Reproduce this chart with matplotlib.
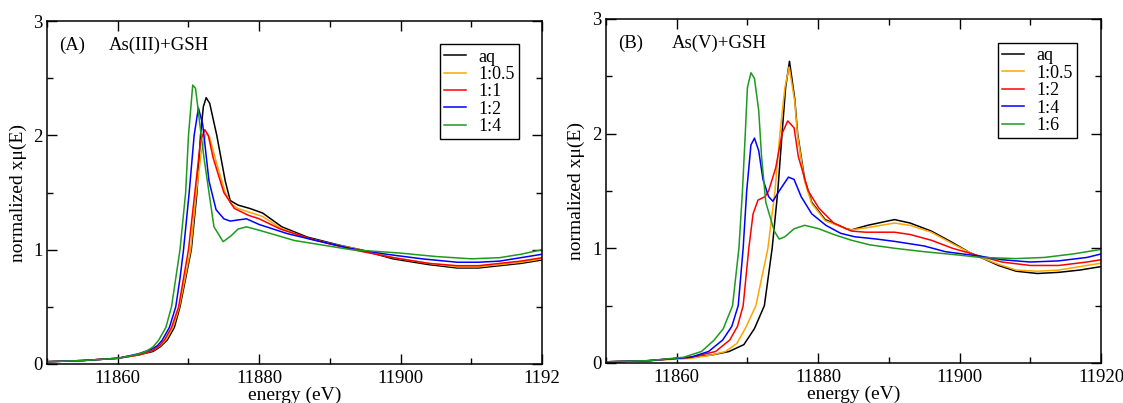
import numpy as np
import matplotlib.pyplot as plt
from matplotlib.ticker import MultipleLocator

plt.rcParams['font.family'] = ['Liberation Serif', 'DejaVu Serif']

# ---- panel A: As(III)+GSH ----
a_labels = ['aq', '1:0.5', '1:1', '1:2', '1:4']

a_aq_x = [11850, 11855, 11860, 11863, 11865, 11866, 11867, 11868, 11868.8, 11869.6, 11870.4, 11871.2, 11871.7,
          11872.1, 11872.5, 11873, 11874, 11875.2, 11875.9, 11877, 11878.7, 11880.5, 11883.2, 11886.8,
          11891.3, 11894.3, 11898.9, 11903.9, 11908, 11911, 11914, 11917, 11920]
a_aq_y = [0.02, 0.03, 0.05, 0.08, 0.11, 0.15, 0.21, 0.32, 0.5, 0.75, 1.0, 1.5, 2.0,
          2.25, 2.33, 2.28, 2.0, 1.6, 1.43, 1.39, 1.36, 1.32, 1.2, 1.11,
          1.04, 1.0, 0.92, 0.87, 0.84, 0.84, 0.86, 0.88, 0.91]

a_05_x = [11850, 11855, 11860, 11863, 11865, 11866, 11866.8, 11867.8, 11868.7, 11869.5, 11870.3, 11871.1, 11871.8,
          11872.5, 11873, 11874, 11875.2, 11876, 11877, 11878.5, 11880.5, 11883, 11886.8,
          11891, 11894.3, 11899, 11904, 11908, 11911, 11914, 11917, 11920]
a_05_y = [0.02, 0.03, 0.05, 0.08, 0.12, 0.16, 0.21, 0.32, 0.5, 0.75, 1.0, 1.5, 1.85,
          2.02, 1.98, 1.75, 1.5, 1.4, 1.36, 1.33, 1.29, 1.19, 1.1,
          1.04, 1.0, 0.93, 0.88, 0.85, 0.85, 0.87, 0.89, 0.92]

a_11_x = [11850, 11855, 11860, 11863, 11865, 11865.9, 11866.6, 11867.6, 11868.6, 11869.3, 11870, 11870.9, 11871.7,
          11872.3, 11872.8, 11873.5, 11875, 11876.5, 11878.5, 11880, 11883, 11887,
          11890, 11894, 11899, 11904, 11908, 11911, 11914, 11917, 11920]
a_11_y = [0.02, 0.03, 0.05, 0.08, 0.12, 0.16, 0.21, 0.32, 0.5, 0.75, 1.0, 1.5, 1.95,
          2.05, 2.0, 1.8, 1.5, 1.36, 1.3, 1.27, 1.18, 1.1,
          1.05, 0.99, 0.93, 0.88, 0.86, 0.86, 0.88, 0.9, 0.93]

a_12_x = [11850, 11855, 11860, 11863, 11864.8, 11865.6, 11866.3, 11867.3, 11868.2, 11868.8, 11869.3, 11870.1, 11870.8,
          11871.4, 11872, 11872.9, 11873.9, 11875, 11875.9, 11877, 11878.2, 11880, 11884, 11888,
          11893, 11898, 11903, 11908, 11911, 11914, 11917, 11920]
a_12_y = [0.02, 0.03, 0.05, 0.09, 0.13, 0.16, 0.21, 0.32, 0.5, 0.75, 1.0, 1.5, 2.0,
          2.24, 2.1, 1.6, 1.35, 1.27, 1.25, 1.26, 1.27, 1.22, 1.14, 1.08,
          1.01, 0.96, 0.92, 0.89, 0.89, 0.9, 0.93, 0.96]

a_14_x = [11850, 11855, 11860, 11862.5, 11864, 11865, 11865.8, 11866.8, 11867.6, 11868.2, 11868.8, 11869.6, 11870,
          11870.6, 11871, 11871.6, 11872.2, 11872.9, 11873.6, 11874.9, 11876, 11877, 11878.2, 11880,
          11885, 11890, 11893, 11900, 11905, 11910, 11914, 11917, 11920]
a_14_y = [0.02, 0.03, 0.05, 0.08, 0.11, 0.15, 0.21, 0.32, 0.5, 0.75, 1.0, 1.5, 2.0,
          2.44, 2.41, 2.1, 1.8, 1.5, 1.2, 1.07, 1.12, 1.18, 1.2, 1.17,
          1.08, 1.03, 1.0, 0.97, 0.94, 0.92, 0.93, 0.96, 1.0]

# ---- panel B: As(V)+GSH ----
b_labels = ['aq', '1:0.5', '1:2', '1:4', '1:6']

b_aq_x = [11850, 11856, 11862, 11865, 11867.4, 11869.5, 11871, 11872.4, 11873.5, 11874.3, 11874.9, 11875.4,
          11875.95, 11876.7, 11877.1, 11878.1, 11879.1, 11881, 11884, 11884.7, 11887, 11890.8,
          11893, 11896, 11899, 11901.5, 11903, 11905.5, 11908, 11911, 11914, 11917, 11920]
b_aq_y = [0.01, 0.02, 0.05, 0.07, 0.1, 0.16, 0.3, 0.5, 1.0, 1.5, 2.0, 2.4,
          2.63, 2.3, 2.0, 1.6, 1.4, 1.25, 1.17, 1.16, 1.2, 1.25,
          1.22, 1.15, 1.05, 0.96, 0.92, 0.85, 0.8, 0.78, 0.79, 0.81, 0.84]

b_05_x = [11850, 11856, 11862, 11865, 11866.9, 11868.5, 11869.7, 11871.2, 11872.9, 11873.9, 11874.6, 11875.3,
          11875.9, 11876.7, 11877.1, 11878.1, 11879.1, 11881, 11884, 11884.7, 11887, 11890.8,
          11893, 11896, 11899, 11901.5, 11903, 11905.5, 11908, 11911, 11914, 11917, 11920]
b_05_y = [0.01, 0.02, 0.04, 0.07, 0.1, 0.17, 0.3, 0.5, 1.0, 1.5, 2.0, 2.4,
          2.58, 2.28, 1.98, 1.58, 1.39, 1.24, 1.17, 1.16, 1.18, 1.22,
          1.2, 1.14, 1.04, 0.96, 0.92, 0.86, 0.81, 0.8, 0.81, 0.84, 0.87]

b_12_x = [11850, 11856, 11862, 11865.5, 11867.5, 11868.6, 11869.4, 11870.2, 11870.8, 11871.5, 11872.5, 11873,
          11874, 11874.9, 11875.7, 11876.6, 11877.2, 11878.6, 11880.1, 11882.2, 11884.7, 11886.7,
          11890.8, 11893, 11896, 11899, 11903, 11906, 11910, 11914, 11918, 11920]
b_12_y = [0.01, 0.02, 0.05, 0.1, 0.2, 0.32, 0.5, 1.0, 1.3, 1.42, 1.45, 1.5,
          1.7, 2.0, 2.11, 2.05, 1.8, 1.5, 1.35, 1.22, 1.15, 1.14,
          1.14, 1.12, 1.07, 1.0, 0.93, 0.88, 0.85, 0.85, 0.88, 0.9]

b_14_x = [11850, 11856, 11862, 11864.5, 11866.5, 11867.8, 11868.7, 11869.4, 11869.9, 11870.5, 11871, 11871.6,
          11872.2, 11873, 11873.6, 11874.5, 11875.8, 11876.6, 11877.6, 11879.1, 11881.1, 11883.2,
          11885.2, 11888.3, 11890.8, 11895, 11898, 11903, 11906, 11910, 11914, 11918, 11920]
b_14_y = [0.01, 0.02, 0.05, 0.1, 0.2, 0.32, 0.5, 1.0, 1.5, 1.9, 1.96, 1.85,
          1.6, 1.45, 1.41, 1.5, 1.62, 1.6, 1.45, 1.3, 1.2, 1.13,
          1.1, 1.08, 1.06, 1.02, 0.97, 0.93, 0.9, 0.88, 0.89, 0.92, 0.95]

b_16_x = [11850, 11856, 11861, 11863.5, 11865.3, 11866.6, 11867.9, 11868.8, 11869.3, 11869.7, 11870, 11870.5,
          11871, 11871.6, 11872, 11872.6, 11873.8, 11874.5, 11875.3, 11876.6, 11878.1, 11880.1,
          11882.2, 11884.7, 11887.3, 11890.8, 11895, 11900, 11903, 11908, 11912, 11916, 11920]
b_16_y = [0.01, 0.02, 0.05, 0.1, 0.2, 0.3, 0.5, 1.0, 1.5, 2.0, 2.4, 2.53,
          2.48, 2.2, 1.8, 1.4, 1.15, 1.08, 1.1, 1.17, 1.2, 1.17,
          1.12, 1.07, 1.03, 1.0, 0.97, 0.94, 0.92, 0.91, 0.92, 0.95, 0.99]

colors = ['black', '#ffa500', '#ff0000', '#0000ff', '#1e9a1e']

panels = [
    ([0.0419, 0.0968, 0.4408, 0.851], '(A)', 'As(III)+GSH', 0.125,
     [(a_aq_x, a_aq_y), (a_05_x, a_05_y), (a_11_x, a_11_y), (a_12_x, a_12_y), (a_14_x, a_14_y)],
     a_labels, (0.954, 0.933), ['11860', '11880', '11900', '1192']),
    ([0.5396, 0.0993, 0.4408, 0.854], '(B)', 'As(V)+GSH', 0.133,
     [(b_aq_x, b_aq_y), (b_05_x, b_05_y), (b_12_x, b_12_y), (b_14_x, b_14_y), (b_16_x, b_16_y)],
     b_labels, (0.952, 0.930), ['11860', '11880', '11900', '11920']),
]

fig = plt.figure(figsize=(11.23, 4.03), dpi=100)

for rect, tag, title, title_x, curves, labels, leg_pos, xticklabels in panels:
    ax = fig.add_axes(rect)
    for (xs, ys), c, lab in zip(curves, colors, labels):
        ax.plot(xs, ys, color=c, lw=1.1, label=lab)
    ax.set_xlim(11850, 11920)
    ax.set_ylim(0, 3)
    ax.set_xticks([11860, 11880, 11900, 11920])
    ax.set_xticklabels(xticklabels)
    ax.set_yticks([0, 1, 2, 3])
    ax.xaxis.set_minor_locator(MultipleLocator(10))
    ax.yaxis.set_minor_locator(MultipleLocator(0.5))
    ax.tick_params(which='both', direction='in', top=True, right=True, labelsize=13.5, width=1)
    ax.tick_params(which='major', length=7)
    ax.tick_params(which='minor', length=4)
    ax.tick_params(axis='x', pad=4)
    ax.tick_params(axis='y', pad=3)
    for s in ax.spines.values():
        s.set_linewidth(1.1)
    ax.set_xlabel('energy (eV)', fontsize=14, labelpad=0)
    ax.set_ylabel('normalized xμ(E)', fontsize=14, labelpad=5)
    ax.text(0.024, 0.928, tag, transform=ax.transAxes, fontsize=13.5, va='center')
    ax.text(title_x, 0.928, title, transform=ax.transAxes, fontsize=13.5, va='center')
    leg = ax.legend(loc='upper right', bbox_to_anchor=leg_pos, fontsize=13, frameon=True,
                    fancybox=False, edgecolor='black', framealpha=1, handlelength=1.2,
                    handletextpad=0.7, labelspacing=0.02, borderpad=0.25, borderaxespad=0)
    leg.get_frame().set_linewidth(1.0)

fig.savefig('out.png', dpi=100)
